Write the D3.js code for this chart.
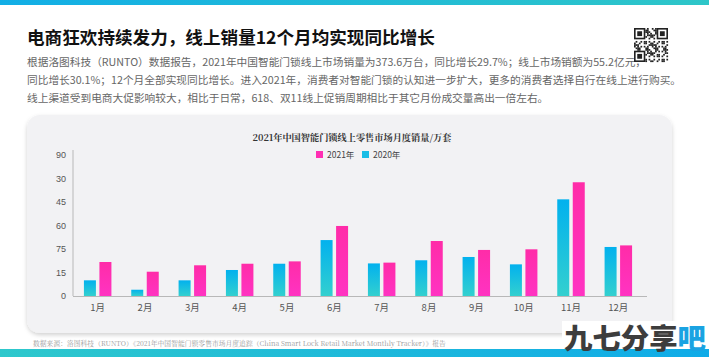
<!DOCTYPE html>
<html><head><meta charset="utf-8">
<script src="https://cdn.jsdelivr.net/npm/d3@7"></script>
<style>
html,body{margin:0;padding:0;background:#fff;}
svg{display:block;}
</style></head>
<body>
<script>
const months = ['1月','2月','3月','4月','5月','6月','7月','8月','9月','10月','11月','12月'];
const seriesNames = ['2020年','2021年'];
const values2020 = [10, 4, 10, 16.6, 20.6, 35.7, 20.8, 22.8, 24.9, 20.2, 61.7, 31.3];
const values2021 = [21.7, 15.5, 19.6, 20.6, 22.1, 44.7, 21.3, 35.1, 29.4, 29.8, 72.6, 32.3];
const yTickValues = [0, 15, 30, 45, 60, 75, 90];
const yTickLabels = ['0', '15', '75', '60', '45', '30', '90'];
const pageTitle = '电商狂欢持续发力，线上销量12个月均实现同比增长';
const bodyLines = [
  '根据洛图科技（RUNTO）数据报告，2021年中国智能门锁线上市场销量为373.6万台，同比增长29.7%；线上市场销额为55.2亿元，',
  '同比增长30.1%；12个月全部实现同比增长。进入2021年，消费者对智能门锁的认知进一步扩大，更多的消费者选择自行在线上进行购买。',
  '线上渠道受到电商大促影响较大，相比于日常，618、双11线上促销周期相比于其它月份成交量高出一倍左右。'
];
const chartTitle = '2021年中国智能门锁线上零售市场月度销量/万套';
const sourceText = '数据来源：洛图科技（RUNTO）《2021年中国智能门锁零售市场月度追踪（China Smart Lock Retail Market Monthly Tracker）》报告';

const W = 709, H = 357;
const svg = d3.select('body').append('svg').attr('width', W).attr('height', H);
const defs = svg.append('defs');

const gTop = defs.append('linearGradient').attr('id','gTop').attr('x1','0').attr('x2','1').attr('y1','0').attr('y2','0');
gTop.append('stop').attr('offset','0').attr('stop-color','#12aee6');
gTop.append('stop').attr('offset','1').attr('stop-color','#2ec6c8');
const gBot = defs.append('linearGradient').attr('id','gBot').attr('x1','0').attr('x2','1').attr('y1','0').attr('y2','0');
gBot.append('stop').attr('offset','0').attr('stop-color','#2ec8cc');
gBot.append('stop').attr('offset','1').attr('stop-color','#0fabe8');
const gBar = defs.append('linearGradient').attr('id','gBar').attr('x1','0').attr('x2','0').attr('y1','0').attr('y2','1');
gBar.append('stop').attr('offset','0').attr('stop-color','#02b1ee');
gBar.append('stop').attr('offset','1').attr('stop-color','#33d0cf');
const gPink = defs.append('linearGradient').attr('id','gPink').attr('x1','0').attr('x2','0').attr('y1','0').attr('y2','1');
gPink.append('stop').attr('offset','0').attr('stop-color','#ff2ca8');
gPink.append('stop').attr('offset','1').attr('stop-color','#ff33c2');
const shadow = defs.append('filter').attr('id','shadow').attr('x','-5%').attr('y','-5%').attr('width','110%').attr('height','115%');
shadow.append('feDropShadow').attr('dx',0).attr('dy',2).attr('stdDeviation',2).attr('flood-color','#000').attr('flood-opacity',0.18);

// top band
svg.append('rect').attr('x',0).attr('y',0).attr('width',W).attr('height',5).attr('fill','url(#gTop)');

// title
svg.append('text').attr('x',27).attr('y',44).attr('font-family','"Noto Sans CJK SC", sans-serif')
  .attr('font-weight',700).attr('font-size',17.6).attr('fill','#111').text(pageTitle);

// body text
svg.append('g').selectAll('text').data(bodyLines).join('text')
  .attr('x',27).attr('y',(d,i)=>66 + i*18)
  .attr('font-family','"Noto Sans CJK SC", sans-serif').attr('font-size',10.7).attr('fill','#666')
  .text(d=>d);

// QR code decoration
const qr = svg.append('g').attr('transform','translate(634,28)');
const qn = 21, qs = 34/qn;
qr.append('rect').attr('width',34).attr('height',34).attr('fill','#fff');
const cells = [];
for (let r=0;r<qn;r++) for (let c=0;c<qn;c++){
  const inFinder = (r<7&&c<7)||(r<7&&c>=qn-7)||(r>=qn-7&&c<7);
  if (inFinder) continue;
  const h = ((r*31 + c*17 + r*c*7) % 11);
  if (h < 5) cells.push([r,c]);
}
qr.selectAll('rect.cell').data(cells).join('rect').attr('class','cell')
  .attr('x',d=>d[1]*qs).attr('y',d=>d[0]*qs).attr('width',qs+0.1).attr('height',qs+0.1).attr('fill','#222');
[[0,0],[0,qn-7],[qn-7,0]].forEach(([r,c])=>{
  qr.append('rect').attr('x',c*qs+qs/2).attr('y',r*qs+qs/2).attr('width',6*qs).attr('height',6*qs).attr('fill','none').attr('stroke','#222').attr('stroke-width',qs);
  qr.append('rect').attr('x',(c+2)*qs).attr('y',(r+2)*qs).attr('width',3*qs).attr('height',3*qs).attr('fill','#222');
});

// card
svg.append('rect').attr('x',27).attr('y',115).attr('width',645).attr('height',218).attr('rx',13)
  .attr('fill','#f2f2f4').attr('filter','url(#shadow)');

// chart
const x0 = d3.scaleBand().domain(months).range([74, 642]).paddingInner(0.419).paddingOuter(0.2095);
const x1 = d3.scaleBand().domain(seriesNames).range([0, x0.bandwidth()]).paddingInner(0.226);
const y = d3.scaleLinear().domain([0, 90]).range([296, 155]);

const chart = svg.append('g');
chart.append('text').attr('x',352).attr('y',141).attr('text-anchor','middle')
  .attr('font-family','"Noto Serif CJK SC", "Noto Sans CJK SC", serif').attr('font-weight',700)
  .attr('font-size',9.2).attr('fill','#333').text(chartTitle);

// legend
const legend = chart.append('g').attr('transform','translate(316,151)');
const legendItems = [{name:'2021年', fill:'#ff2fb3'}, {name:'2020年', fill:'#19bde6'}];
legendItems.forEach((d,i)=>{
  const g = legend.append('g').attr('transform',`translate(${i*46},0)`);
  g.append('rect').attr('width',7).attr('height',7).attr('fill',d.fill);
  g.append('text').attr('x',11).attr('y',6.5).attr('font-family','"Noto Sans CJK SC", sans-serif')
    .attr('font-size',8.5).attr('fill','#444').text(d.name);
});

// y axis
const yAxis = d3.axisLeft(y).tickValues(yTickValues).tickSize(0).tickPadding(7)
  .tickFormat((d)=>yTickLabels[yTickValues.indexOf(d)]);
const ya = chart.append('g').attr('transform','translate(73,0)').call(yAxis);
ya.select('.domain').remove();
ya.selectAll('text').attr('font-family','"Liberation Sans", Arial, sans-serif').attr('font-size',9).attr('fill','#555');
chart.append('line').attr('x1',73).attr('x2',73).attr('y1',150).attr('y2',296).attr('stroke','#b8b8b8').attr('stroke-width',1);

// x axis
const xAxis = d3.axisBottom(x0).tickSize(0).tickPadding(8);
const xa = chart.append('g').attr('transform','translate(0,296)').call(xAxis);
xa.select('.domain').remove();
xa.selectAll('text').attr('font-family','"Noto Sans CJK SC", sans-serif').attr('font-size',9.5).attr('fill','#555');
chart.append('line').attr('x1',73).attr('x2',647).attr('y1',296.5).attr('y2',296.5).attr('stroke','#b8b8b8').attr('stroke-width',1);

// bars
const barData = months.map((m,i)=>({month:m, vals:[
  {s:'2020年', v:values2020[i], fill:'url(#gBar)'},
  {s:'2021年', v:values2021[i], fill:'url(#gPink)'}
]}));
const groups = chart.append('g').selectAll('g').data(barData).join('g')
  .attr('transform',d=>`translate(${x0(d.month)},0)`);
groups.selectAll('rect').data(d=>d.vals).join('rect')
  .attr('x',d=>x1(d.s)).attr('width',x1.bandwidth())
  .attr('y',d=>y(d.v)).attr('height',d=>y(0)-y(d.v))
  .attr('fill',d=>d.fill);

// source
svg.append('text').attr('x',33).attr('y',345.5)
  .attr('font-family','"Noto Serif CJK SC", "Liberation Serif", serif').attr('font-size',6.8).attr('fill','#9a9a9a')
  .text(sourceText);

// bottom band
svg.append('rect').attr('x',0).attr('y',349).attr('width',W).attr('height',8).attr('fill','url(#gBot)');

// watermark
svg.append('rect').attr('x',562).attr('y',321).attr('width',147).attr('height',28).attr('fill','#fff');
const wm = svg.append('text').attr('x',564).attr('y',349).attr('font-family','"Noto Sans CJK SC", sans-serif')
  .attr('font-weight',900).attr('font-size',28).attr('textLength',142).attr('lengthAdjust','spacingAndGlyphs');
wm.append('tspan').attr('fill','#3d3d3d').text('九七分享');
wm.append('tspan').attr('fill','#1aa3e2').text('吧');
</script>
</body></html>
